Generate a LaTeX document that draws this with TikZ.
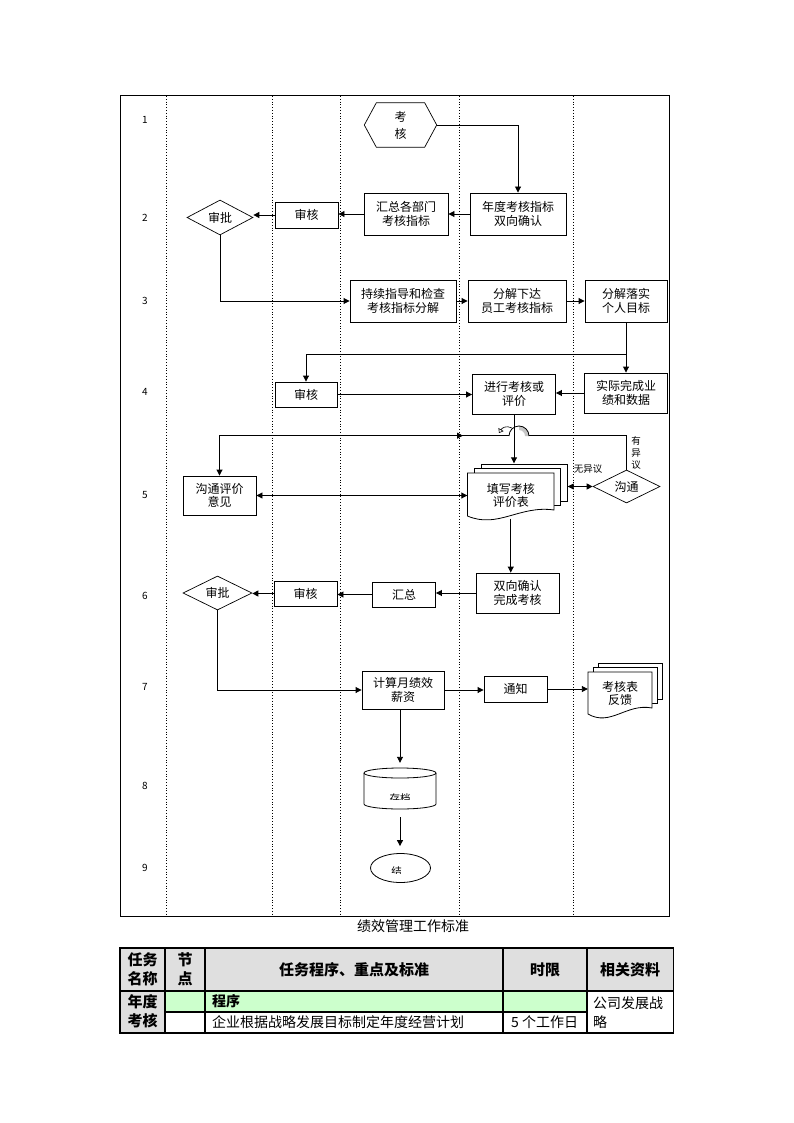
\documentclass[tikz,border=0pt]{standalone}
\usepackage{fontspec}
\setmainfont{Noto Sans CJK SC}
\usetikzlibrary{arrows.meta,shapes.geometric,decorations.markings}

% stack of pages: front page top-left x, y, width, height, shift of the pages behind
\newcommand{\docstack}[5]{%
  \foreach \k in {2,1}
    \draw[line width=0.8pt, fill=white] (#1+\k*#5, #2-\k*4.5) rectangle ++(#3, #4-9);
  \draw[line width=0.8pt, fill=white] (#1,#2) -- ++(#3,0) -- ++(0,#4-9)
    .. controls (#1+0.6*#3, #2+#4-14) and (#1+0.35*#3, #2+#4+10) .. (#1, #2+#4-3) -- cycle;
}

\begin{document}
\begin{tikzpicture}[x=1pt, y=-1pt,
  box/.style={draw, line width=0.9pt, fill=white, align=center, inner sep=0pt, font=\fontsize{12}{13.5}\selectfont},
  dec/.style={diamond, draw, line width=0.7pt, fill=white, aspect=2, inner sep=0pt, font=\fontsize{12}{13.5}\selectfont},
  doc/.style={align=center, inner sep=0pt, font=\fontsize{12}{13.5}\selectfont},
  arr/.style={line width=0.9pt, -{Triangle[length=6pt, width=6pt]}},
  darr/.style={line width=0.9pt, {Triangle[length=6pt, width=6pt]}-{Triangle[length=6pt, width=6pt]}},
  lane/.style={line width=0.8pt, dotted},
  num/.style={font=\fontsize{10}{12}\selectfont},
  tag/.style={align=center, inner sep=0pt, font=\fontsize{9.5}{11.7}\selectfont},
  hd/.style={align=center, inner sep=0pt, font=\fontsize{15}{18.5}\selectfont\bfseries},
  cell/.style={anchor=west, align=left, inner sep=0pt, font=\fontsize{14}{18.7}\selectfont}]

\useasboundingbox (0,0) rectangle (794,1123);

% frame, lanes, step numbers
\draw[line width=1pt] (120,96) rectangle (669.5,916);
\foreach \x in {166.5, 272, 340.5, 459, 573.5}
  \draw[lane] (\x,96) -- (\x,916);
\foreach \y [count=\i] in {120, 218, 300.5, 392, 495, 595.5, 686.5, 786, 868}
  \node[num] (n\i) at (145,\y) {\i};

% start
\node[doc, font=\fontsize{12}{17}\selectfont, minimum width=72, minimum height=44] (kh) at (400.5,125) {考\\核};
\draw[line width=0.7pt] (kh.west) -- ([xshift=12pt]kh.north west) -- ([xshift=-12pt]kh.north east)
  -- (kh.east) -- ([xshift=-12pt]kh.south east) -- ([xshift=12pt]kh.south west) -- cycle;

\node[box, minimum width=96, minimum height=42] (ndzb) at (518,214) {年度考核指标\\双向确认};
\node[box, minimum width=84, minimum height=42] (hzbm) at (406,214) {汇总各部门\\考核指标};
\node[box, minimum width=63, minimum height=26] (sh2) at (306.5,215) {审核};
\node[dec, minimum width=66, minimum height=35] (sp2) at (220,217.5) {审批};

\node[box, minimum width=106, minimum height=42] (cxzd) at (403,301) {持续指导和检查\\考核指标分解};
\node[box, minimum width=98, minimum height=42] (fjxd) at (517,301) {分解下达\\员工考核指标};
\node[box, minimum width=82, minimum height=42] (fjls) at (626,301) {分解落实\\个人目标};

\node[box, minimum width=62, minimum height=25] (sh4) at (306,394.5) {审核};
\node[box, minimum width=83, minimum height=40] (jxkh) at (514,394) {进行考核或\\评价};
\node[box, minimum width=83, minimum height=40] (sjwc) at (626,393) {实际完成业\\绩和数据};

\node[box, minimum width=73, minimum height=39] (gtyj) at (219.5,495.5) {沟通评价\\意见};
\docstack{467.5}{473}{86.5}{46}{6.75}
\node[doc, minimum width=86.5, minimum height=46] (txkh) at (510.75,495.5) {填写考核\\评价表};
\node[dec, minimum width=67, minimum height=33] (gt) at (626.5,486.5) {沟通};
\node[tag] (wyy) at (588,469) {无异议};
\node[tag] (yyy) at (636,453) {有\\异\\议};

\node[box, minimum width=83, minimum height=40] (sxqr) at (517.5,593) {双向确认\\完成考核};
\node[box, minimum width=63, minimum height=25] (hz) at (404,594.5) {汇总};
\node[box, minimum width=63, minimum height=25] (sh6) at (305.5,593.5) {审核};
\node[dec, minimum width=69, minimum height=34] (sp6) at (217.5,593) {审批};

\node[box, minimum width=82, minimum height=38] (jsyj) at (403,690) {计算月绩效\\薪资};
\node[box, minimum width=63, minimum height=26] (tz) at (515.5,689) {通知};
\docstack{588}{672}{64}{45}{5}
\node[doc, minimum width=64, minimum height=45] (khb) at (620,693.5) {考核表\\反馈};

% archive and end
\node[minimum width=72, minimum height=41, inner sep=0pt] (cd) at (400,788.5) {};
\draw[line width=0.8pt, fill=white] (364,773) -- (364,804) arc[start angle=180, end angle=0, x radius=36, y radius=5] -- (436,773);
\draw[line width=0.8pt] (400,773) ellipse [x radius=36, y radius=5];
\begin{scope}
  \clip (364,780) rectangle (436,799.5);
  \node[font=\fontsize{10.5}{12}\selectfont] (cdt) at (400,798.5) {存档};
\end{scope}
\node[ellipse, draw, line width=0.8pt, minimum width=60, minimum height=29, inner sep=0pt] (js) at (400.5,868) {};
\begin{scope}
  \clip (372,860) rectangle (428,873);
  \node[font=\fontsize{10.5}{12}\selectfont] (jst) at (396.5,871.5) {结};
\end{scope}

% connectors
\draw[arr] (kh.east) -| (ndzb.north);
\draw[arr] (ndzb) -- (hzbm);
\draw[arr] (hzbm.west) -- (hzbm.west -| sh2.east);
\draw[arr] (sh2.west) -- (sh2.west -| sp2.east);
\draw[arr] (sp2.south) |- (cxzd.west);
\draw[arr] (cxzd) -- (fjxd);
\draw[arr] (fjxd) -- (fjls);
\draw[arr] (fjls) -- (sjwc);
\path (fjls.south) ++(0,32) coordinate (br);
\draw[arr] (br) -| (sh4.north);
\draw[arr] (sh4.east) -- (sh4.east -| jxkh.west);
\draw[arr] (sjwc.west) -- (sjwc.west -| jxkh.east);

\draw[arr, postaction={decorate}, decoration={markings,
    mark=at position 197.5pt with {\arrowreversed{Triangle[length=6pt, width=6pt]}}}]
  (gt.north) -- ++(0,-34) -| (gtyj.north);
\draw[white, line width=2pt] (509,436) -- (529,436);
\fill[gray!45] (519,426) arc[start angle=270, end angle=360, radius=10] -- (525,436)
  arc[start angle=360, end angle=270, radius=6] -- cycle;
\draw[line width=0.8pt] (509,436) arc[start angle=180, end angle=360, radius=10];
\draw[line width=0.6pt, -{Triangle[open, length=4pt, width=6pt]}] (512,428) .. controls (506,425) and (502,428) .. (499,433);

\path (txkh.north -| jxkh.south) ++(0,-9) coordinate (txtop);
\draw[arr] (jxkh.south) -- (txtop);
\draw[darr] (gtyj.east) -- (gtyj.east -| txkh.west);
\path (gt.west -| txkh.east) ++(13.5,0) coordinate (txr);
\draw[darr] (txr) -- (gt.west);

\draw[arr] (txkh.south) -- (txkh.south |- sxqr.north);
\draw[arr] (sxqr.west) -- (sxqr.west -| hz.east);
\draw[arr] (hz.west) -- (hz.west -| sh6.east);
\draw[arr] (sh6.west) -- (sh6.west -| sp6.east);
\draw[arr] (sp6.south) |- (jsyj.west);
\draw[arr] (jsyj.east) -- (jsyj.east -| tz.west);
\draw[arr] (tz.east) -- (tz.east -| khb.west);
\draw[arr, shorten >=5pt] (cd.north |- jsyj.south) -- (cd.north);
\draw[arr, shorten <=8pt, shorten >=7pt] (cd.south) -- (cd.south |- js.north);

% caption and table
\node[font=\fontsize{14}{16}\selectfont] (cap) at (413,926.5) {绩效管理工作标准};

\fill[gray!25] (120,948) rectangle (673.5,991);
\fill[gray!25] (120,991) rectangle (165,1033);
\fill[green!20] (165,991) rectangle (587,1012);
\draw[line width=1.2pt] (120,948) rectangle (673.5,1033);
\draw[line width=1.2pt] (120,991) -- (673.5,991);
\draw[line width=1.2pt] (165,1012) -- (587,1012);
\foreach \x in {165, 205, 503, 587}
  \draw[line width=1.2pt] (\x,948) -- (\x,1033);

\node[hd] (c1) at (142.5,969.5) {任务\\名称};
\node[hd] (c2) at (185,969.5) {节\\点};
\node[hd] (c3) at (354,969.5) {任务程序、重点及标准};
\node[hd] (c4) at (545,969.5) {时限};
\node[hd] (c5) at (630,969.5) {相关资料};
\node[hd] (r1) at (142.5,1011) {年度\\考核};
\node[cell, font=\fontsize{14}{18.7}\selectfont\bfseries] (cx) at (212,1001.5) {程序};
\node[cell] (qy) at (212,1022) {企业根据战略发展目标制定年度经营计划};
\node[cell] (sx) at (511,1022) {5 个工作日};
\node[cell] (gs) at (593,1012.3) {公司发展战\\略};
\end{tikzpicture}
\end{document}
